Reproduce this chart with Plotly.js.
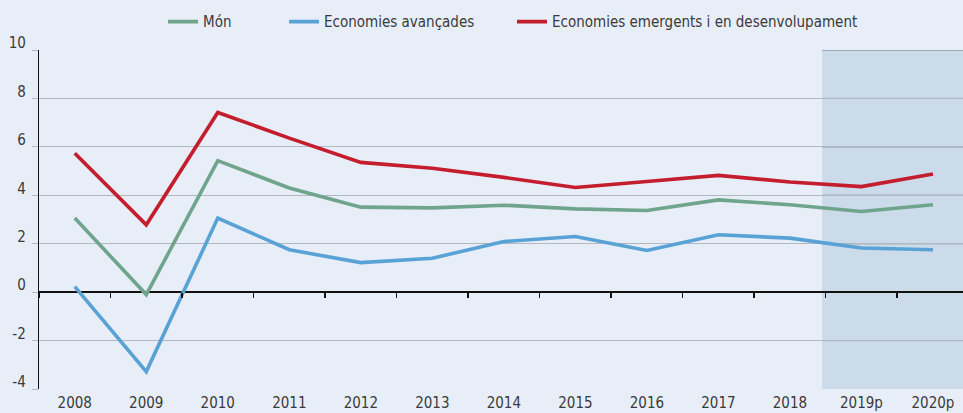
<!DOCTYPE html>
<html>
<head>
<meta charset="utf-8">
<script src="https://cdn.plot.ly/plotly-3.0.1.min.js"></script>
<style>html,body{margin:0;padding:0;background:#E8EEF7;}#chart{width:963px;height:413px;}</style>
</head>
<body>
<div id="chart"></div>
<script>
const years = ['2008','2009','2010','2011','2012','2013','2014','2015','2016','2017','2018','2019p','2020p'];
const mon =      [3.06, -0.10, 5.43, 4.30, 3.51, 3.48, 3.59, 3.44, 3.37, 3.81, 3.61, 3.33, 3.61];
const avancades =[0.23, -3.28, 3.06, 1.75, 1.22, 1.40, 2.09, 2.30, 1.72, 2.37, 2.23, 1.82, 1.75];
const emergents =[5.74,  2.78, 7.42, 6.36, 5.36, 5.12, 4.74, 4.32, 4.57, 4.82, 4.55, 4.36, 4.88];
const names = ['Món', 'Economies avançades', 'Economies emergents i en desenvolupament'];
const colors = ['#6FA58C', '#59A2D6', '#C41E2E'];
const yTicks = [-4, -2, 0, 2, 4, 6, 8, 10];
const yTickText = ['-4', '-2', '0', '2', '4', '6', '8', '10'];
const shadeStart = 10.45; // projection period begins between 2018 and 2019p

const FONT = '"Liberation Sans Narrow", "Arial Narrow", "DejaVu Sans Condensed", sans-serif';
const TXT = '#3A3A3A';
const legendIds = ['legend', 'legend2', 'legend3'];
const legendX = [0.1342, 0.2652, 0.5119];
const series = [mon, avancades, emergents];
const traces = series.map((s, i) => ({
  x: years, y: s, type: 'scatter', mode: 'lines', name: names[i], legend: legendIds[i],
  line: {color: colors[i], width: 3.6}, hoverinfo: 'x+y'
}));
traces.push({x: years, y: years.map(() => null), xaxis: 'x2', type: 'scatter', mode: 'lines',
  showlegend: false, hoverinfo: 'skip'});

const yMin = -4, yMax = 10;
const xEnd = 12.42;
const shapes = [{type: 'rect', xref: 'x', yref: 'y', x0: shadeStart, x1: xEnd + 1, y0: yMin, y1: yMax,
  fillcolor: '#CCDBE9', line: {width: 0}, layer: 'below'}];
yTicks.filter(v => v !== 0 && v !== yMin).forEach(v => shapes.push({
  type: 'line', xref: 'x', yref: 'y', x0: shadeStart, x1: xEnd + 1, y0: v, y1: v,
  line: {color: '#6B7A8A', width: 1}, layer: 'below'}));

const legendBase = {orientation: 'h', xanchor: 'left', y: 1.083, yanchor: 'middle',
  font: {family: FONT, size: 15, color: TXT}, bgcolor: 'rgba(0,0,0,0)'};

const layout = {
  width: 963, height: 413,
  margin: {l: 39, r: 0, t: 50, b: 24},
  paper_bgcolor: '#E8EEF7', plot_bgcolor: '#E8EEF7',
  font: {family: FONT, size: 15, color: TXT},
  showlegend: true,
  legend: Object.assign({}, legendBase, {x: legendX[0]}),
  legend2: Object.assign({}, legendBase, {x: legendX[1]}),
  legend3: Object.assign({}, legendBase, {x: legendX[2]}),
  xaxis: {type: 'category', range: [-0.5, xEnd], showgrid: false, zeroline: false, showline: false,
    ticks: '', ticklabelstandoff: 3, tickfont: {family: FONT, size: 15, color: TXT}, fixedrange: true},
  xaxis2: {type: 'category', overlaying: 'x', matches: 'x', anchor: 'free', position: (0 - yMin) / (yMax - yMin),
    side: 'bottom', showticklabels: false, showgrid: false, showline: false, zeroline: false,
    ticks: 'outside', tickson: 'boundaries', ticklen: 5, tickwidth: 1.5, tickcolor: '#111111'},
  yaxis: {range: [yMin, yMax], tickvals: yTicks, ticktext: yTickText, showgrid: true, gridcolor: '#B3B7C0', gridwidth: 1,
    zeroline: true, zerolinecolor: '#111111', zerolinewidth: 2,
    showline: true, linecolor: '#111111', linewidth: 1.2,
    ticks: 'outside', ticklen: 6, tickcolor: '#B3B7C0', tickwidth: 1, ticklabelshift: -7, ticklabelstandoff: 3,
    tickfont: {family: FONT, size: 15, color: TXT}, fixedrange: true},
  shapes: shapes
};
Plotly.newPlot('chart', traces, layout, {displayModeBar: false, staticPlot: true});
</script>
</body>
</html>
